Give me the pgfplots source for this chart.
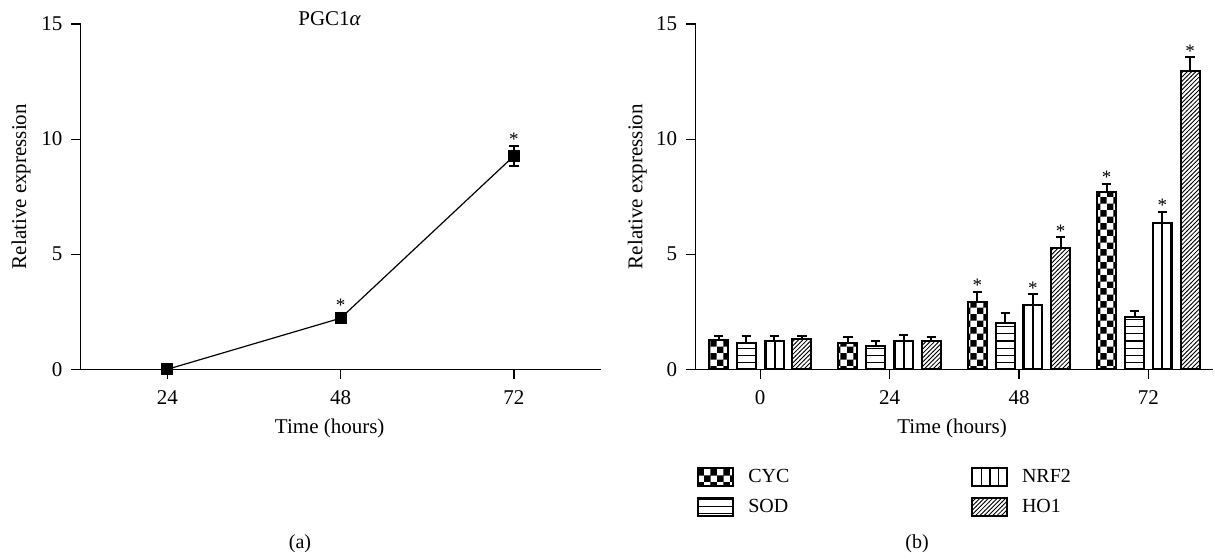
\documentclass[border=0pt]{standalone}
\usepackage{fontspec}
\setmainfont{Liberation Serif}
\usepackage{pgfplots}
\pgfplotsset{compat=1.18}
\usepackage{pgfplotstable}
\usetikzlibrary{patterns}

\pgfdeclarepatternformonly{mycheck}{\pgfpointorigin}{\pgfqpoint{6.4pt}{6.4pt}}{\pgfqpoint{6.4pt}{6.4pt}}{%
 \pgfpathrectangle{\pgfpointorigin}{\pgfqpoint{3.25pt}{3.25pt}}%
 \pgfpathrectangle{\pgfqpoint{3.2pt}{3.2pt}}{\pgfqpoint{3.25pt}{3.25pt}}%
 \pgfusepath{fill}}
\pgfdeclarepatternformonly{myhlines}{\pgfpointorigin}{\pgfqpoint{100pt}{1pt}}{\pgfqpoint{100pt}{3.6pt}}{%
 \pgfsetlinewidth{0.55pt}\pgfpathmoveto{\pgfqpoint{0pt}{0.5pt}}\pgfpathlineto{\pgfqpoint{100pt}{0.5pt}}\pgfusepath{stroke}}
\pgfdeclarepatternformonly{myvlines}{\pgfpointorigin}{\pgfqpoint{1pt}{100pt}}{\pgfqpoint{4.3pt}{100pt}}{%
 \pgfsetlinewidth{0.55pt}\pgfpathmoveto{\pgfqpoint{0.5pt}{0pt}}\pgfpathlineto{\pgfqpoint{0.5pt}{100pt}}\pgfusepath{stroke}}
\pgfdeclarepatternformonly{mydiag}{\pgfqpoint{-1pt}{-1pt}}{\pgfqpoint{3.2pt}{3.2pt}}{\pgfqpoint{2.15pt}{2.15pt}}{%
 \pgfsetlinewidth{0.42pt}\pgfpathmoveto{\pgfqpoint{-0.1pt}{-0.1pt}}\pgfpathlineto{\pgfqpoint{2.25pt}{2.25pt}}\pgfusepath{stroke}}

\pgfplotstableread{
x y err
24 0.00 0.10
48 2.22 0.20
72 9.27 0.45
}\pgc
\pgfplotstableread{
x y
48 2.53
72 9.73
}\pgcstars

\pgfplotstableread{
x y err
0 1.26 0.19
1 1.14 0.27
2 2.94 0.43
3 7.70 0.36
}\cyc
\pgfplotstableread{
x y err
0 1.16 0.29
1 1.00 0.23
2 2.03 0.43
3 2.29 0.26
}\sod
\pgfplotstableread{
x y err
0 1.23 0.22
1 1.22 0.27
2 2.80 0.46
3 6.37 0.48
}\nrf
\pgfplotstableread{
x y err
0 1.33 0.12
1 1.23 0.18
2 5.28 0.46
3 12.94 0.61
}\hoi
\pgfplotstableread{
x y
1.6778 3.37
2.1074 3.26
2.3222 5.74
2.6778 8.06
3.1074 6.85
3.3222 13.55
}\barstars

\pgfplotsset{
 common/.style={
  scale only axis, height=172.65pt, ymin=0, ymax=15, ytick={0,5,10,15},
  axis x line*=bottom, axis y line*=left,
  axis line style={line width=0.6pt, -},
  tick style={line width=0.6pt, black},
  tick align=outside, major tick length=4.8pt,
  /pgf/number format/assume math mode=true,
  tick label style={font=\fontsize{10.5}{12}\selectfont},
  label style={font=\fontsize{10.5}{12}\selectfont},
  xticklabel style={yshift=-2.5pt},
  yticklabel style={xshift=-0.8pt},
  clip=false,
  ylabel={Relative expression},
  xlabel={Time (hours)},
 },
 mybar/.style={ybar, bar width=0.147, bar shift=0pt, draw=black, line width=1pt,
  error bars/y dir=plus, error bars/y explicit,
  error bars/error bar style={line width=1pt, solid},
  error bars/error mark options={rotate=90, mark size=2.3pt, line width=1pt},
  legend image code/.code={\draw[##1, line width=1pt] (0pt,-4.6pt) rectangle (17.25pt,4.6pt);},
 },
 stars/.style={forget plot, only marks, mark=none, nodes near coords={*},
  every node near coord/.append style={anchor=base, inner sep=0pt, font=\fontsize{9.5}{10}\selectfont}},
}

\begin{document}
\begin{tikzpicture}
\path[use as bounding box] (0,0) rectangle (607.5pt,279pt);
\begin{axis}[common,
  at={(40.35pt,94.35pt)}, anchor=south west,
  width=259.95pt, xmin=12, xmax=84, xtick={24,48,72},
  xlabel style={at={(rel axis cs:0.479,-0.17)}, anchor=center},
  ylabel style={at={(rel axis cs:-0.1148,0.529)}, anchor=center},
]
\addplot[black, line width=0.6pt, mark=square*, mark size=2.7pt, mark options={fill=black, solid, line width=0.5pt},
  error bars/y dir=both, error bars/y explicit,
  error bars/error bar style={line width=0.6pt},
  error bars/error mark options={rotate=90, mark size=2.7pt, line width=1pt}]
  table[x=x, y=y, y error=err] {\pgc};
\addplot[stars] table[x=x, y=y] {\pgcstars};
\node[font=\fontsize{10.5}{12}\selectfont] at (rel axis cs:0.479,1.0165) {PGC1\textit{α}};
\end{axis}

\begin{axis}[common,
  at={(347.75pt,94.35pt)}, anchor=south west,
  width=258.8pt, xmin=-0.5, xmax=3.5, xtick={0,1,2,3}, xticklabels={0,24,48,72},
  xlabel style={at={(rel axis cs:0.4956,-0.17)}, anchor=center},
  ylabel style={at={(rel axis cs:-0.1124,0.529)}, anchor=center},
  legend columns=2, transpose legend, legend cell align=left,
  legend style={at={(rel axis cs:0.0027,-0.282)}, anchor=north west, draw=none, fill=none,
    inner sep=0pt, nodes={inner sep=0pt}, font=\fontsize{10}{12}\selectfont, row sep=4.8pt,
    /tikz/every odd column/.append style={column sep=7.25pt},
    /tikz/every even column/.append style={column sep=90.8pt}},
]
\addplot[mybar, pattern=mycheck] table[x expr=\thisrow{x}-0.3222, y=y, y error=err] {\cyc};
\addlegendentry{CYC}
\addplot[mybar, pattern=myhlines] table[x expr=\thisrow{x}-0.1074, y=y, y error=err] {\sod};
\addlegendentry{SOD}
\addplot[mybar, pattern=myvlines] table[x expr=\thisrow{x}+0.1074, y=y, y error=err] {\nrf};
\addlegendentry{NRF2}
\addplot[mybar, pattern=mydiag] table[x expr=\thisrow{x}+0.3222, y=y, y error=err] {\hoi};
\addlegendentry{HO1}
\addplot[stars] table[x=x, y=y] {\barstars};
\end{axis}
\node at (150pt,7pt) {(a)};
\node at (458.5pt,7pt) {(b)};
\end{tikzpicture}
\end{document}
